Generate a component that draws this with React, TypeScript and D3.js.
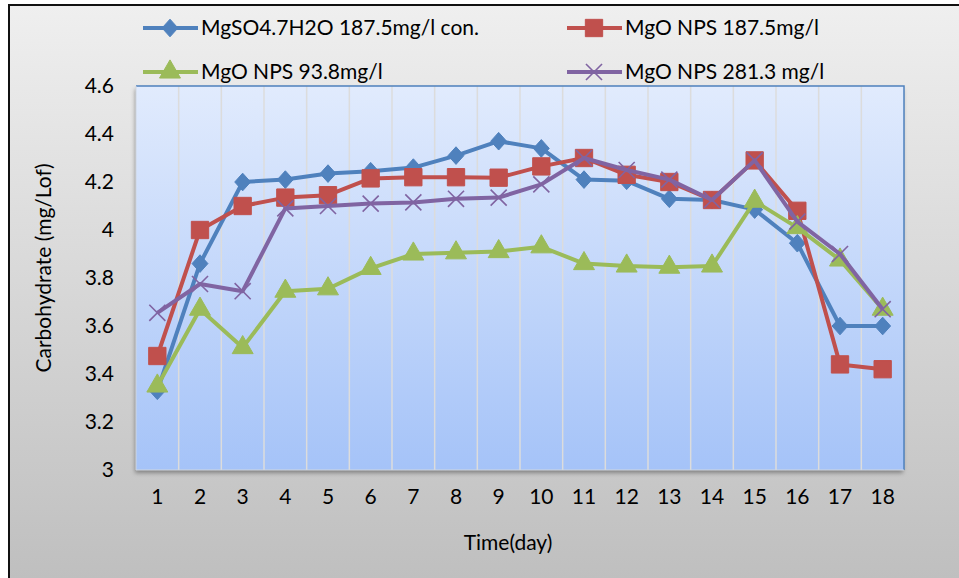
import { useEffect, useRef } from "react";
import * as d3 from "d3";

const days = [1, 2, 3, 4, 5, 6, 7, 8, 9, 10, 11, 12, 13, 14, 15, 16, 17, 18];
const yTicks = [3, 3.2, 3.4, 3.6, 3.8, 4, 4.2, 4.4, 4.6];

const mgso4 = [3.33, 3.86, 4.2, 4.21, 4.235, 4.245, 4.26, 4.31, 4.37, 4.34, 4.21, 4.205, 4.13, 4.125, 4.085, 3.945, 3.6, 3.6];
const nps1875 = [3.475, 4.0, 4.1, 4.135, 4.145, 4.215, 4.22, 4.22, 4.218, 4.265, 4.3, 4.23, 4.2, 4.125, 4.29, 4.08, 3.44, 3.42];
const nps938 = [3.35, 3.67, 3.51, 3.745, 3.755, 3.84, 3.9, 3.905, 3.91, 3.93, 3.86, 3.85, 3.845, 3.85, 4.12, 4.01, 3.875, 3.67];
const nps2813 = [3.655, 3.775, 3.745, 4.09, 4.1, 4.11, 4.115, 4.13, 4.135, 4.19, 4.3, 4.25, 4.21, 4.125, 4.29, 4.035, 3.9, 3.67];

const seriesNames = ["MgSO4.7H2O 187.5mg/l con.", "MgO NPS 187.5mg/l", "MgO NPS 93.8mg/l", "MgO NPS 281.3 mg/l"];
const seriesColors = ["#4f81bd", "#c0504d", "#9bbb59", "#8064a2"];
const seriesMarkers = ["diamond", "square", "triangle", "x"];
const seriesValues = [mgso4, nps1875, nps938, nps2813];

const W = 959;
const H = 578;
const FONT = "Lato, 'Liberation Sans', sans-serif";
const FS = 21;

// wide diamond like Excel's marker
const wideDiamond = {
  draw(ctx: d3.Path, size: number) {
    const h = Math.sqrt(size) * 0.72;
    const w = h * 0.9;
    ctx.moveTo(0, -h);
    ctx.lineTo(w, 0);
    ctx.lineTo(0, h);
    ctx.lineTo(-w, 0);
    ctx.closePath();
  },
};

export default function App() {
  const svgRef = useRef<SVGSVGElement | null>(null);

  useEffect(() => {
    const svg = d3.select(svgRef.current);
    svg.selectAll("*").remove();

    const plot = { left: 136, right: 904, top: 86, bottom: 470 };

    const defs = svg.append("defs");
    const bg = defs.append("linearGradient").attr("id", "bg-grad").attr("x1", 0).attr("y1", 0).attr("x2", 0).attr("y2", 1);
    bg.append("stop").attr("offset", "0%").attr("stop-color", "#efefef");
    bg.append("stop").attr("offset", "100%").attr("stop-color", "#bdbdbd");

    const pg = defs.append("linearGradient").attr("id", "plot-grad").attr("x1", 0).attr("y1", 0).attr("x2", 0).attr("y2", 1);
    pg.append("stop").attr("offset", "0%").attr("stop-color", "#e1ebfd");
    pg.append("stop").attr("offset", "100%").attr("stop-color", "#a5c3f8");

    const shadow = defs.append("filter").attr("id", "plot-shadow").attr("x", "-5%").attr("y", "-5%").attr("width", "110%").attr("height", "112%");
    shadow.append("feDropShadow").attr("dx", -1).attr("dy", 3).attr("stdDeviation", 2).attr("flood-color", "#000").attr("flood-opacity", 0.35);

    // chart background + outer border (only left/top visible)
    svg.append("rect").attr("x", 9).attr("y", 5).attr("width", W + 20).attr("height", H + 20)
      .attr("fill", "url(#bg-grad)").attr("stroke", "#111").attr("stroke-width", 2);

    const x = d3.scaleBand<number>().domain(days).range([plot.left, plot.right]);
    const y = d3.scaleLinear().domain([3, 4.6]).range([plot.bottom, plot.top]);

    // plot area
    svg.append("rect")
      .attr("x", plot.left).attr("y", plot.top)
      .attr("width", plot.right - plot.left).attr("height", plot.bottom - plot.top)
      .attr("fill", "url(#plot-grad)")
      .attr("filter", "url(#plot-shadow)");

    // vertical gridlines at category boundaries
    svg.append("g").selectAll("line")
      .data(days.slice(1))
      .enter().append("line")
      .attr("x1", d => x(d)!).attr("x2", d => x(d)!)
      .attr("y1", plot.top).attr("y2", plot.bottom)
      .attr("stroke", "#dcdcdc").attr("stroke-width", 1.5);

    // plot border: blue top/right
    svg.append("path")
      .attr("d", `M${plot.left},${plot.top}H${plot.right}V${plot.bottom}`)
      .attr("fill", "none").attr("stroke", "#4f81bd").attr("stroke-width", 1.5);
    svg.append("path")
      .attr("d", `M${plot.left},${plot.top}V${plot.bottom}H${plot.right}`)
      .attr("fill", "none").attr("stroke", "#d0d6df").attr("stroke-width", 1);

    // y tick labels
    svg.append("g").selectAll("text")
      .data(yTicks)
      .enter().append("text")
      .attr("x", 114).attr("y", d => y(d))
      .attr("dy", "0.35em")
      .attr("text-anchor", "end")
      .attr("font-family", FONT).attr("font-size", FS).attr("fill", "#000")
      .text(d => d3.format("~g")(d));

    // x tick labels
    svg.append("g").selectAll("text")
      .data(days)
      .enter().append("text")
      .attr("x", d => x(d)! + x.bandwidth() / 2).attr("y", 497)
      .attr("dy", "0.35em")
      .attr("text-anchor", "middle")
      .attr("font-family", FONT).attr("font-size", FS).attr("fill", "#000")
      .text(d => String(d));

    // axis titles
    svg.append("text")
      .attr("x", 508).attr("y", 543).attr("dy", "0.35em")
      .attr("text-anchor", "middle")
      .attr("font-family", FONT).attr("font-size", FS)
      .text("Time(day)");
    svg.append("text")
      .attr("transform", "translate(44,268) rotate(-90)")
      .attr("dy", "0.35em")
      .attr("text-anchor", "middle")
      .attr("font-family", FONT).attr("font-size", FS)
      .text("Carbohydrate (mg/Lof)");

    const markerPath = (kind: string) => {
      if (kind === "diamond") return d3.symbol(wideDiamond as any, 150)();
      if (kind === "square") return d3.symbol(d3.symbolSquare, 300)();
      if (kind === "triangle") return d3.symbol(d3.symbolTriangle, 190)();
      return d3.symbol(d3.symbolX, 170)();
    };

    const drawMarker = (g: d3.Selection<SVGGElement, unknown, null, undefined>, kind: string, color: string, cx: number, cy: number) => {
      const p = g.append("path")
        .attr("d", markerPath(kind))
        .attr("transform", `translate(${cx},${cy})`);
      if (kind === "x") {
        p.attr("fill", "none").attr("stroke", color).attr("stroke-width", 1.6);
      } else {
        p.attr("fill", color).attr("stroke", color).attr("stroke-width", 1);
      }
    };

    const line = d3.line<number>()
      .x((_, i) => x(days[i])! + x.bandwidth() / 2)
      .y(d => y(d));

    seriesValues.forEach((vals, si) => {
      const g = svg.append("g");
      g.append("path")
        .datum(vals)
        .attr("d", line)
        .attr("fill", "none")
        .attr("stroke", seriesColors[si])
        .attr("stroke-width", 4)
        .attr("stroke-linejoin", "round");
      vals.forEach((v, i) => {
        drawMarker(g as any, seriesMarkers[si], seriesColors[si], x(days[i])! + x.bandwidth() / 2, y(v));
      });
    });

    // legend
    const legendPos = [
      { lx: 143, ty: 28 },
      { lx: 567, ty: 28 },
      { lx: 143, ty: 72 },
      { lx: 567, ty: 72 },
    ];
    seriesNames.forEach((name, si) => {
      const g = svg.append("g");
      const { lx, ty } = legendPos[si];
      g.append("line")
        .attr("x1", lx).attr("x2", lx + 55)
        .attr("y1", ty).attr("y2", ty)
        .attr("stroke", seriesColors[si]).attr("stroke-width", 4);
      drawMarker(g as any, seriesMarkers[si], seriesColors[si], lx + 27, ty);
      g.append("text")
        .attr("x", lx + 58).attr("y", ty).attr("dy", "0.35em")
        .attr("font-family", FONT).attr("font-size", FS)
        .text(name);
    });
  }, []);

  return (
    <div style={{ position: "fixed", left: 0, top: 0 }}>
      <svg ref={svgRef} width={W} height={H} style={{ display: "block" }} />
    </div>
  );
}
